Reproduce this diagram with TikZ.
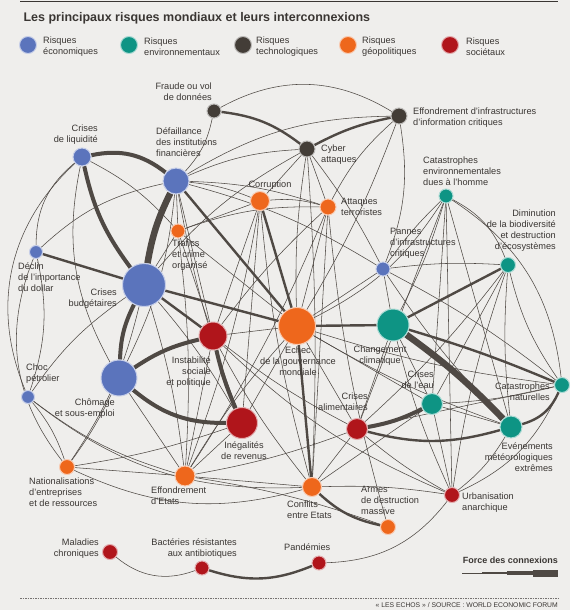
\documentclass[tikz,border=0pt]{standalone}
\usepackage{fontspec}
\setmainfont{Liberation Sans}
\usepackage{xcolor}
\usepackage{tikz}
\usetikzlibrary{backgrounds}
\definecolor{Paper}{HTML}{EFEEEC}
\definecolor{Ink}{HTML}{3A3633}
\definecolor{LinkGrey}{HTML}{4F4944}
\definecolor{EcoBlue}{HTML}{5B74BC}
\definecolor{EnvTeal}{HTML}{0E9484}
\definecolor{TechDark}{HTML}{433D37}
\definecolor{GeoOrange}{HTML}{EE671C}
\definecolor{SocRed}{HTML}{B0151B}

\begin{document}
\begin{tikzpicture}[x=1pt, y=-1pt, font=\fontsize{9.2}{11}\selectfont, text=Ink]
\tikzset{risk/.style={circle, inner sep=0pt, fill=#1, draw=#1!35!white, line width=1pt},
  eco/.style={risk=EcoBlue}, env/.style={risk=EnvTeal}, tech/.style={risk=TechDark},
  geo/.style={risk=GeoOrange}, soc/.style={risk=SocRed},
  lbl/.style={inner sep=0pt, align=left},
  lk/.style={draw=LinkGrey, line width=.55pt}, lkB/.style={lk, line width=2.4pt},
  lkC/.style={lk, line width=4pt}, lkD/.style={lk, line width=6.5pt}}
\useasboundingbox (0,0) rectangle (570,610);

% title and legend
\node[anchor=west, font=\fontsize{12.5}{14}\selectfont\bfseries] (title) at (20,18) {Les principaux risques mondiaux et leurs interconnexions};
\node[eco, minimum size=17] (legEco) at (28,45) {};
\node[env, minimum size=17] (legEnv) at (129,45) {};
\node[tech, minimum size=17] (legTech) at (243,45) {};
\node[geo, minimum size=17] (legGeo) at (348,45) {};
\node[soc, minimum size=17] (legSoc) at (450,45) {};
\node[lbl, anchor=west] (tLegEco) at (43,46.5) {Risques\\économiques};
\node[lbl, anchor=west] (tLegEnv) at (144,46.5) {Risques\\environnementaux};
\node[lbl, anchor=west] (tLegTech) at (256,46.5) {Risques\\technologiques};
\node[lbl, anchor=west] (tLegGeo) at (362,46.5) {Risques\\géopolitiques};
\node[lbl, anchor=west] (tLegSoc) at (466,46.5) {Risques\\sociétaux};

% risks
\node[tech, minimum size=14] (fraude) at (214,111) {};
\node[tech, minimum size=16] (infra) at (399,116) {};
\node[tech, minimum size=16] (cyber) at (307,149) {};
\node[eco, minimum size=18] (liquid) at (82,157) {};
\node[eco, minimum size=26] (defaill) at (176,181) {};
\node[geo, minimum size=19] (corrupt) at (260,201) {};
\node[geo, minimum size=16] (terror) at (328,207) {};
\node[env, minimum size=14] (catHomme) at (446,196) {};
\node[geo, minimum size=14] (trafics) at (178,231) {};
\node[eco, minimum size=13] (dollar) at (36,252) {};
\node[env, minimum size=15] (biodiv) at (508,265) {};
\node[eco, minimum size=14] (pannes) at (383,269) {};
\node[eco, minimum size=43] (budget) at (144,285) {};
\node[soc, minimum size=28] (instab) at (213,336) {};
\node[geo, minimum size=37] (gouv) at (297,326) {};
\node[env, minimum size=32] (climat) at (393,325) {};
\node[eco, minimum size=13] (petrole) at (28,397) {};
\node[eco, minimum size=36] (chomage) at (119,378) {};
\node[env, minimum size=15] (catNat) at (562,385) {};
\node[env, minimum size=21] (eau) at (432,404) {};
\node[soc, minimum size=21] (alim) at (357,429) {};
\node[soc, minimum size=31] (inegal) at (242,423) {};
\node[env, minimum size=22] (meteo) at (511,427) {};
\node[geo, minimum size=15] (natio) at (67,467) {};
\node[geo, minimum size=20] (etats) at (185,476) {};
\node[geo, minimum size=19] (conflits) at (312,487) {};
\node[soc, minimum size=15] (urban) at (452,495) {};
\node[geo, minimum size=15] (armes) at (388,527) {};
\node[soc, minimum size=15] (maladies) at (110,552) {};
\node[soc, minimum size=14] (bacteries) at (202,568) {};
\node[soc, minimum size=14] (pandemies) at (319,563) {};

% labels
\node[lbl, anchor=east, align=right] (tFraude) at (212,91.5) {Fraude ou vol\\de données};
\node[lbl, anchor=west] (tInfra) at (413,118) {Effondrement d'infrastructures\\d'information critiques};
\node[lbl, anchor=west] (tCyber) at (321,154.5) {Cyber\\attaques};
\node[lbl, anchor=east, align=right] (tLiquid) at (98,134.5) {Crises\\de liquidité};
\node[lbl, anchor=west] (tDefaill) at (156,142.5) {Défaillance\\des institutions\\financières};
\node[lbl] (tCorrupt) at (270,185) {Corruption};
\node[lbl, anchor=west] (tTerror) at (341,207) {Attaques\\terroristes};
\node[lbl, anchor=west] (tCatHomme) at (423,171) {Catastrophes\\environnementales\\dues à l'homme};
\node[lbl, anchor=west] (tTrafics) at (172,255) {Trafics\\et crime\\organisé};
\node[lbl, anchor=west] (tDollar) at (18,277) {Déclin\\de l'importance\\du dollar};
\node[lbl, anchor=east, align=right] (tBiodiv) at (556,231) {Diminution\\de la biodiversité\\et destruction\\d'écosystèmes};
\node[lbl, anchor=west] (tPannes) at (390,243.5) {Pannes\\d'infrastructures\\critiques};
\node[lbl, anchor=east, align=right] (tBudget) at (117,298.5) {Crises\\budgétaires};
\node[lbl, anchor=east, align=right] (tInstab) at (211,372.5) {Instabilité\\sociale\\et politique};
\node[lbl, align=center] (tGouv) at (298,361) {Echec\\de la gouvernance\\mondiale};
\node[lbl, align=center] (tClimat) at (380,355.5) {Changement\\climatique};
\node[lbl, anchor=west] (tChoc) at (26,374) {Choc\\pétrolier};
\node[lbl, anchor=east, align=right] (tChomage) at (115,408.5) {Chômage\\et sous-emploi};
\node[lbl, anchor=east, align=right] (tCatNat) at (550,392) {Catastrophes\\naturelles};
\node[lbl, anchor=east, align=right] (tEau) at (434,380) {Crises\\de l'eau};
\node[lbl, anchor=east, align=right] (tAlim) at (368,402) {Crises\\alimentaires};
\node[lbl, align=center] (tInegal) at (244,451) {Inégalités\\de revenus};
\node[lbl, anchor=east, align=right] (tMeteo) at (553,457.5) {Evénements\\météorologiques\\extrêmes};
\node[lbl, anchor=west] (tNatio) at (29,492) {Nationalisations\\d'entreprises\\et de ressources};
\node[lbl, anchor=west] (tEtats) at (151,495.5) {Effondrement\\d'Etats};
\node[lbl, anchor=west] (tConflits) at (287,510) {Conflits\\entre Etats};
\node[lbl, anchor=west] (tUrban) at (462,503) {Urbanisation\\anarchique};
\node[lbl, anchor=west] (tArmes) at (361,500.5) {Armes\\de destruction\\massive};
\node[lbl, anchor=east, align=right] (tMaladies) at (99,548.5) {Maladies\\chroniques};
\node[lbl, anchor=east, align=right] (tBacteries) at (237,548.5) {Bactéries résistantes\\aux antibiotiques};
\node[lbl, anchor=west] (tPandemies) at (284,547) {Pandémies};

% key and source
\node[lbl, anchor=east, font=\fontsize{9}{11}\selectfont\bfseries] (tForce) at (558,560) {Force des connexions};
\node[lbl, anchor=east, font=\fontsize{6.8}{8}\selectfont] (tSource) at (558,605) {« LES ECHOS » / SOURCE : WORLD ECONOMIC FORUM};

\begin{scope}[on background layer]
\fill[Paper] (0,0) rectangle (570,610);
\draw[Ink, line width=1.2pt] (20,1.5) -- (558,1.5);
\draw[Ink!70, line width=.5pt, dash pattern=on 1.5pt off 1pt] (20,598) -- (558,598);
\draw[LinkGrey, line width=.6pt] (462,573) -- (482,573);
\draw[LinkGrey, line width=2pt] (482,573) -- (507,573);
\draw[LinkGrey, line width=4pt] (507,573) -- (533,573);
\draw[LinkGrey, line width=7pt] (533,573) -- (558,573);
% weak links
\foreach \a/\b/\c in {fraude/defaill/15, fraude/infra/30, defaill/infra/15, defaill/cyber/10, defaill/corrupt/8,
  defaill/terror/8, defaill/pannes/8, defaill/instab/0, defaill/inegal/-5, defaill/chomage/10, defaill/trafics/0,
  cyber/terror/0, cyber/pannes/5, cyber/gouv/-5, cyber/conflits/3, cyber/budget/-10, cyber/corrupt/0,
  infra/terror/-10, infra/pannes/15, infra/gouv/5,
  corrupt/trafics/0, corrupt/instab/0, corrupt/inegal/0, corrupt/terror/10, corrupt/etats/5, corrupt/conflits/-5,
  terror/gouv/0, terror/instab/-5, terror/conflits/0, terror/armes/-5, terror/etats/5, terror/trafics/-10,
  catHomme/biodiv/20, catHomme/climat/5, catHomme/eau/0, catHomme/meteo/0, catHomme/alim/0, catHomme/urban/0,
  catHomme/catNat/25, catHomme/gouv/15, catHomme/pannes/-5,
  trafics/gouv/0, trafics/budget/0, trafics/instab/0, trafics/etats/5,
  dollar/liquid/25, dollar/defaill/15, dollar/petrole/15, dollar/natio/-30,
  liquid/chomage/-20, liquid/petrole/-35, liquid/trafics/10,
  pannes/catNat/5, pannes/meteo/-5, pannes/gouv/0, pannes/climat/0, pannes/biodiv/5,
  biodiv/meteo/-5, biodiv/catNat/-10, biodiv/eau/0, biodiv/alim/5, biodiv/urban/-5,
  budget/inegal/5, budget/etats/5, budget/petrole/-10, budget/natio/10,
  instab/gouv/0, instab/alim/-5, instab/etats/0, instab/conflits/-5, instab/urban/-10,
  gouv/etats/-5, gouv/inegal/0, gouv/alim/0, gouv/catNat/-5, gouv/meteo/-5, gouv/eau/0,
  climat/eau/0, climat/alim/0, climat/urban/-5,
  petrole/etats/-10, petrole/conflits/-20, petrole/natio/10,
  chomage/etats/0, chomage/natio/5,
  catNat/eau/5, catNat/alim/0, catNat/urban/20,
  eau/meteo/0, eau/urban/0, eau/conflits/0,
  alim/conflits/0, alim/etats/5, alim/urban/-5,
  inegal/natio/5, inegal/etats/0, meteo/urban/10,
  natio/etats/0, natio/conflits/-20,
  etats/conflits/0, etats/armes/5, conflits/urban/5,
  maladies/bacteries/-30, pandemies/urban/-25}
  \draw[lk] (\a) to[bend left=\c] (\b);
% medium links
\foreach \a/\b/\c in {alim/meteo/-15, climat/catNat/3, climat/biodiv/0, climat/gouv/0, catNat/meteo/25,
  budget/gouv/0, budget/instab/0, defaill/gouv/0, dollar/budget/0, fraude/cyber/15, cyber/infra/8,
  corrupt/gouv/0, gouv/conflits/0, conflits/armes/-15, bacteries/pandemies/-20}
  \draw[lkB] (\a) to[bend left=\c] (\b);
% strong links
\foreach \a/\b/\c in {liquid/defaill/25, liquid/budget/-12, budget/chomage/-12, chomage/inegal/-20,
  chomage/instab/10, instab/inegal/-5, alim/eau/-8}
  \draw[lkC] (\a) to[bend left=\c] (\b);
\foreach \a/\b/\c in {budget/defaill/8, climat/meteo/5}
  \draw[lkD] (\a) to[bend left=\c] (\b);
\end{scope}
\end{tikzpicture}
\end{document}
